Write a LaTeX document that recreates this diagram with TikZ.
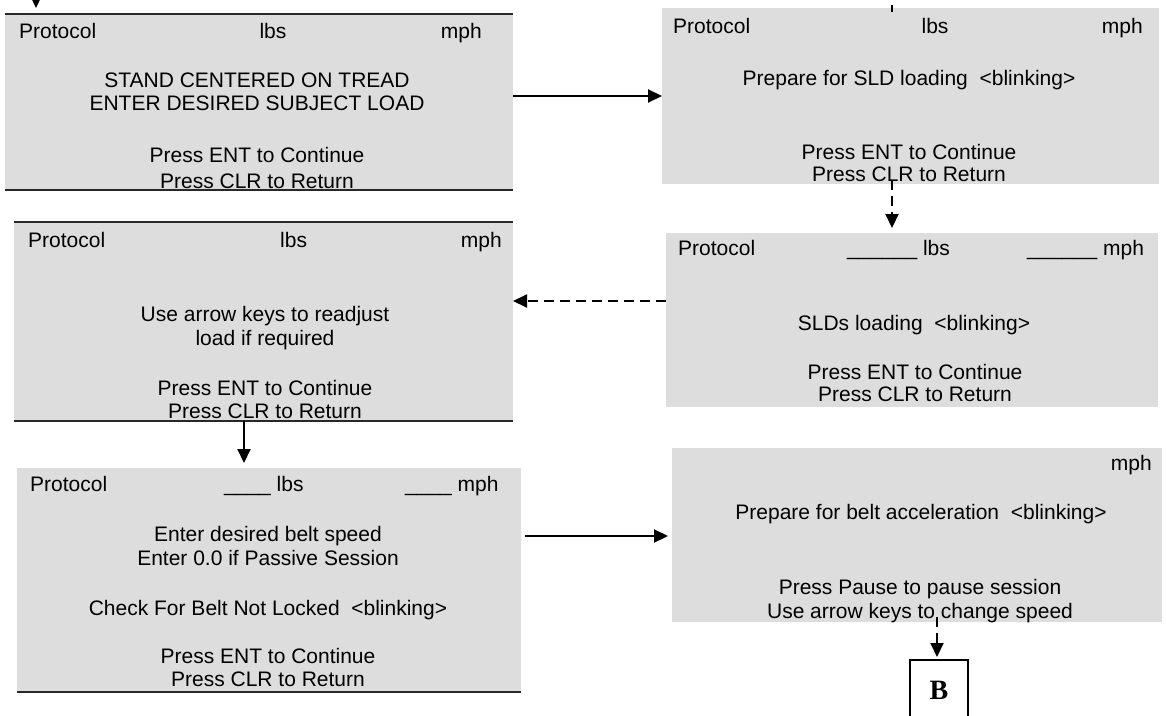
\documentclass[tikz,border=0pt]{standalone}
\usepackage{fontspec}
\setmainfont{Liberation Sans}
\newfontfamily\serifB{Liberation Serif}
\usetikzlibrary{arrows.meta}
\definecolor{scr}{RGB}{221,221,221}
\definecolor{edgec}{RGB}{40,40,40}
\tikzset{
  screen/.style={fill=scr, draw=none, inner sep=0pt, outer sep=0pt},
  edgeline/.style={draw=edgec, line width=2pt},
  txt/.style={inner sep=0pt, font=\fontsize{21}{25}\selectfont, anchor=base},
  txtl/.style={txt, anchor=base west},
  txtr/.style={txt, anchor=base east},
  flow/.style={line width=2pt, -{Triangle[length=14pt,width=13pt]}},
  dflow/.style={flow, dash pattern=on 10pt off 6pt},
  labelbox/.style={draw=black, line width=2pt, fill=white, minimum width=58pt, minimum height=60pt, inner sep=0pt, font=\serifB\bfseries\fontsize{28}{30}\selectfont}
}
\begin{document}
\begin{tikzpicture}[x=1pt,y=-1pt]
\useasboundingbox (0,0) rectangle (1167,715);
% screens
\node[screen, minimum width=508pt, minimum height=176pt] (b1) at (259,102) {};
\node[screen, minimum width=497pt, minimum height=176pt] (b2) at (910.5,96) {};
\node[screen, minimum width=492pt, minimum height=174pt] (b3) at (912,320) {};
\node[screen, minimum width=499pt, minimum height=199pt] (b4) at (263.5,321.5) {};
\node[screen, minimum width=504pt, minimum height=224pt] (b5) at (269,580) {};
\node[screen, minimum width=490pt, minimum height=174pt] (b6) at (917,535) {};
\node[labelbox] (bB) at (939,690) {B};
% dark edges
\draw[edgeline] (b1.north west) -- (b1.north east);
\draw[edgeline] (b1.south west) -- (b1.south east);
\draw[edgeline] (b4.north west) -- (b4.north east);
\draw[edgeline] (b4.south west) -- (b4.south east);
\draw[edgeline] (b5.south west) -- (b5.south east);
% box 1 texts
\node[txtl] (t1a) at (19,38) {Protocol};
\node[txt] (t1b) at (273,38) {lbs};
\node[txtr] (t1c) at (482,38) {mph};
\node[txt] (t1d) at (257,87) {STAND CENTERED ON TREAD};
\node[txt] (t1e) at (257,110) {ENTER DESIRED SUBJECT LOAD};
\node[txt] (t1f) at (257,162) {Press ENT to Continue};
\node[txt] (t1g) at (257,188) {Press CLR to Return};
% box 2 texts
\node[txtl] (t2a) at (673,33) {Protocol};
\node[txt] (t2b) at (935,33) {lbs};
\node[txtr] (t2c) at (1143,33) {mph};
\node[txt] (t2d) at (909,85) {Prepare for SLD loading~~<blinking>};
\node[txt] (t2e) at (909,159) {Press ENT to Continue};
\node[txt] (t2f) at (909,181) {Press CLR to Return};
% box 3 texts
\node[txtl] (t3a) at (678,255) {Protocol};
\node[txtl] (t3b) at (847,255) {\_\_\_\_\_\_ lbs};
\node[txtl] (t3c) at (1027,255) {\_\_\_\_\_\_ mph};
\node[txt] (t3d) at (914,330) {SLDs loading~~<blinking>};
\node[txt] (t3e) at (915,379) {Press ENT to Continue};
\node[txt] (t3f) at (915,401) {Press CLR to Return};
% box 4 texts
\node[txtl] (t4a) at (28,247) {Protocol};
\node[txtl] (t4b) at (280,247) {lbs};
\node[txtr] (t4c) at (502,247) {mph};
\node[txt] (t4d) at (265,321) {Use arrow keys to readjust};
\node[txt] (t4e) at (265,345) {load if required};
\node[txt] (t4f) at (265,395) {Press ENT to Continue};
\node[txt] (t4g) at (265,418) {Press CLR to Return};
% box 5 texts
\node[txtl] (t5a) at (30,491) {Protocol};
\node[txtl] (t5b) at (224,491) {\_\_\_\_ lbs};
\node[txtl] (t5c) at (405,491) {\_\_\_\_ mph};
\node[txt] (t5d) at (268,541) {Enter desired belt speed};
\node[txt] (t5e) at (268,565) {Enter 0.0 if Passive Session};
\node[txt] (t5f) at (268,615) {Check For Belt Not Locked~~<blinking>};
\node[txt] (t5g) at (268,663) {Press ENT to Continue};
\node[txt] (t5h) at (268,686) {Press CLR to Return};
% box 6 texts
\node[txtr] (t6a) at (1152,470) {mph};
\node[txt] (t6b) at (921,519) {Prepare for belt acceleration~~<blinking>};
\node[txt] (t6c) at (920,594) {Press Pause to pause session};
\node[txt] (t6d) at (920,618) {Use arrow keys to change speed};
% connectors
\coordinate (in0) at (36,-30);
\draw[flow, shorten >=6pt] (in0) -- (b1.north -| in0);
\draw[line width=2pt] (892,5) -- (b2.north -| 892,0) -- ++(0,4);
\draw[flow] (b1.east |- 0,96) -- (b2.west |- 0,96);
\draw[dflow, shorten <=-4pt, shorten >=5pt] (b2.south -| 892,0) -- (b3.north -| 892,0);
\draw[dflow] (b3.west |- 0,301) -- (b4.east |- 0,301);
\draw[flow, shorten >=5pt] (b4.south -| 244,0) -- (b5.north -| 244,0);
\draw[flow, shorten <=4pt, shorten >=4pt] (b5.east |- 0,536) -- (b6.west |- 0,536);
\draw[dflow, shorten <=-5pt, shorten >=2pt] (b6.south -| 937,0) -- (bB.north -| 937,0);
\end{tikzpicture}
\end{document}
